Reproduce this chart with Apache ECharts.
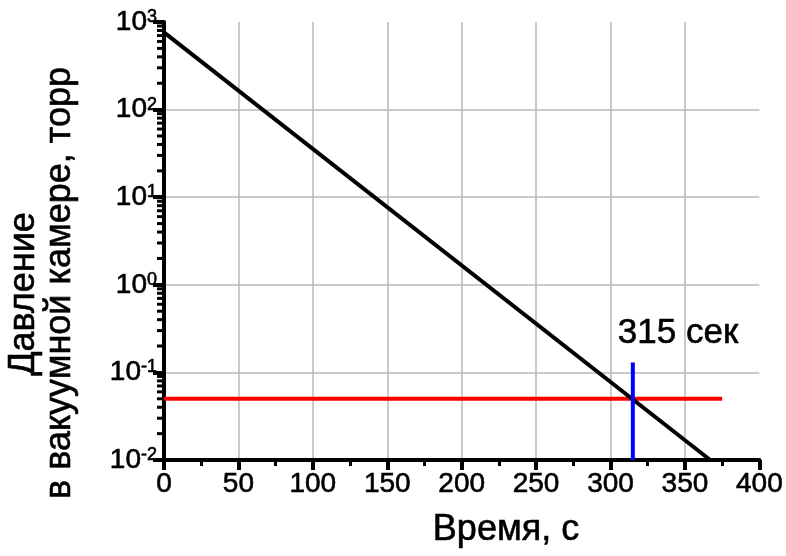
<!DOCTYPE html>
<html>
<head>
<meta charset="utf-8">
<script src="https://cdn.jsdelivr.net/npm/echarts@6/dist/echarts.min.js"></script>
<style>
  html, body { margin: 0; padding: 0; background: #fff; }
  #chart { width: 786px; height: 556px; }
</style>
</head>
<body>
<div id="chart"></div>
<script>
// Pump-down curve: chamber pressure vs time, log scale
const pumpDown = [[0, 760], [367, 0.01]];          // [time s, pressure torr]
const targetPressure = [[0, 0.05], [375, 0.05]];   // required vacuum level
const markerLine = [[315, 0.01], [315, 0.13]];     // time the target is reached
const markerText = '315 сек';
const xTitle = 'Время, с';
const yTitleLines = ['Давление', 'в вакуумной камере, торр'];

// log minor ticks 2..9 within every decade
const decades = [-2, -1, 0, 1, 2];
const minorValues = [];
decades.forEach(function (k) {
  for (let m = 2; m <= 9; m++) minorValues.push([0, m * Math.pow(10, k)]);
});

const FONT = '"Liberation Sans", Arial, sans-serif';
// slightly heavier glyphs
const INK = { textBorderColor: '#000', textBorderWidth: 0.6 };

const chart = echarts.init(document.getElementById('chart'));
chart.setOption({
  animation: false,
  backgroundColor: '#fff',
  grid: { left: 164, right: 26, top: 22, bottom: 96, containLabel: false },
  xAxis: {
    type: 'value',
    min: 0, max: 400, interval: 50,
    axisLine: { show: true, onZero: false, lineStyle: { color: '#000', width: 4 } },
    axisTick: { show: true, length: 10, lineStyle: { color: '#000', width: 4 } },
    minorTick: { show: true, splitNumber: 2, length: 6, lineStyle: { color: '#000', width: 3 } },
    axisLabel: Object.assign({ fontSize: 28, color: '#000', fontFamily: FONT, margin: 10 }, INK),
    splitLine: { show: true, showMinLine: false, showMaxLine: false,
      lineStyle: { color: '#b8b8b8', width: 1.5 } }
  },
  yAxis: {
    type: 'log',
    logBase: 10,
    min: 0.01, max: 1000,
    splitNumber: 5,
    axisLine: { show: true, lineStyle: { color: '#000', width: 4 } },
    axisTick: { show: true, length: 11, lineStyle: { color: '#000', width: 4 } },
    minorTick: { show: false },
    axisLabel: {
      margin: 7,
      fontSize: 28,
      color: '#000',
      fontFamily: FONT,
      formatter: function (v) {
        const e = Math.round(Math.log10(v));
        return '{b|10}{s|' + e + '}';
      },
      rich: {
        b: Object.assign({ fontSize: 28, lineHeight: 28, color: '#000', fontFamily: FONT }, INK),
        s: Object.assign({ fontSize: 18, lineHeight: 18, verticalAlign: 'top', color: '#000', fontFamily: FONT }, INK)
      }
    },
    splitLine: { show: true, showMinLine: false, showMaxLine: false,
      lineStyle: { color: '#b8b8b8', width: 1.5 } }
  },
  series: [
    {
      type: 'custom',
      name: 'minorTicksY',
      silent: true,
      clip: false,
      data: minorValues,
      encode: { x: 0, y: 1 },
      renderItem: function (params, api) {
        const p = api.coord([0, api.value(1)]);
        return {
          type: 'line',
          shape: { x1: p[0] - 7, y1: p[1], x2: p[0], y2: p[1] },
          style: { stroke: '#000', lineWidth: 3 }
        };
      },
      z: 3
    },
    {
      type: 'line', name: 'target', data: targetPressure,
      showSymbol: false, silent: true,
      lineStyle: { color: '#ff0000', width: 4 }, z: 4
    },
    {
      type: 'line', name: 'pumpdown', data: pumpDown,
      showSymbol: false, silent: true,
      lineStyle: { color: '#000', width: 4 }, z: 5
    },
    {
      type: 'line', name: 'marker', data: markerLine,
      showSymbol: false, silent: true,
      lineStyle: { color: '#0000ff', width: 4 }, z: 6
    }
  ],
  graphic: [
    {
      type: 'text', x: 678, y: 333,
      style: { text: markerText, fontSize: 35, fontFamily: FONT, fill: '#000',
        stroke: '#000', lineWidth: 0.6,
        textAlign: 'center', textVerticalAlign: 'middle' }
    },
    {
      type: 'text', x: 506, y: 530,
      style: { text: xTitle, fontSize: 36, fontFamily: FONT, fill: '#000',
        stroke: '#000', lineWidth: 0.6,
        textAlign: 'center', textVerticalAlign: 'middle' }
    },
    {
      type: 'text', x: 24, y: 294, rotation: Math.PI / 2,
      style: { text: yTitleLines[0], fontSize: 36, fontFamily: FONT, fill: '#000',
        stroke: '#000', lineWidth: 0.6,
        textAlign: 'center', textVerticalAlign: 'middle' }
    },
    {
      type: 'text', x: 60, y: 283, rotation: Math.PI / 2,
      style: { text: yTitleLines[1], fontSize: 36, fontFamily: FONT, fill: '#000',
        stroke: '#000', lineWidth: 0.6,
        textAlign: 'center', textVerticalAlign: 'middle' }
    }
  ]
});
</script>
</body>
</html>
